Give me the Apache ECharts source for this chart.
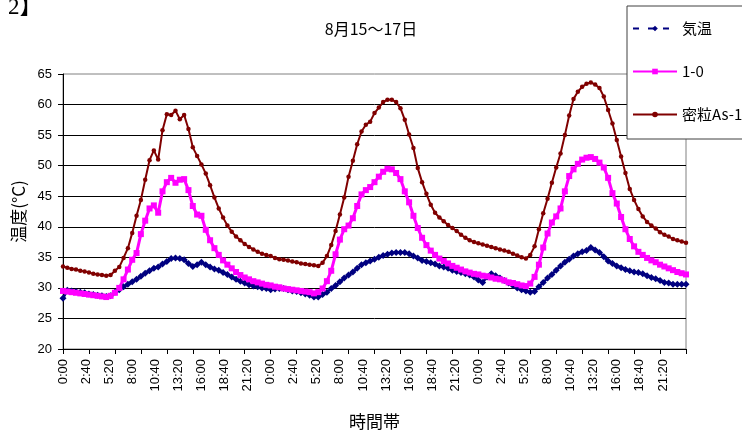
<!DOCTYPE html>
<html>
<head>
<meta charset="utf-8">
<script src="https://cdn.jsdelivr.net/npm/echarts@6/dist/echarts.min.js"></script>
<style>html,body{margin:0;padding:0;background:#fff;}#c{width:742px;height:435px;}</style>
</head>
<body>
<div id="c"></div>
<script>
// x-axis tick labels (repeat every day)
const tickLabels = ['0:00','2:40','5:20','8:00','10:40','13:20','16:00','18:40','21:20'];
const labelStepMin = 160;
const tickStepMin = 180;
const stepMinutes = 30;   // sampling interval of the series below
const totalMinutes = 4320;
const seriesNames = ['気温', '1-0', '密粒As-1'];

// 気温
const airTemp = [
  28.3, 29.6, 29.5, 29.4, 29.3, 29.2, 29.0, 28.9, 28.8, 28.7,
  28.6, 28.7, 29.3, 29.7, 30.2, 30.6, 31.0, 31.4, 31.9, 32.4,
  32.8, 33.2, 33.4, 33.9, 34.3, 34.8, 34.9, 34.8, 34.6, 34.0,
  33.5, 33.8, 34.2, 33.8, 33.4, 33.1, 32.9, 32.5, 32.2, 31.8,
  31.4, 31.1, 30.8, 30.5, 30.3, 30.2, 30.0, 29.9,
  29.7, 29.8, 29.9, 29.9, 29.7, 29.5, 29.4, 29.2, 29.0, 28.8,
  28.5, 28.5, 28.9, 29.3, 29.9, 30.4, 31.0, 31.6, 32.1, 32.6,
  33.2, 33.8, 34.1, 34.4, 34.7, 35.0, 35.3, 35.5, 35.7, 35.8,
  35.8, 35.8, 35.6, 35.2, 34.9, 34.5, 34.3, 34.1, 33.9, 33.6,
  33.4, 33.2, 32.9, 32.7, 32.5, 32.3, 32.1, 31.8,
  31.3, 30.9, 31.8, 32.3, 32.0, 31.6, 31.2, 30.8, 30.4, 30.0,
  29.7, 29.5, 29.3, 29.4, 30.2, 30.9, 31.6, 32.2, 32.9, 33.6,
  34.2, 34.7, 35.2, 35.6, 35.9, 36.1, 36.6, 36.2, 35.8, 35.1,
  34.4, 34.0, 33.6, 33.3, 33.0, 32.8, 32.6, 32.5, 32.3, 32.0,
  31.7, 31.5, 31.2, 30.9, 30.8, 30.6, 30.6, 30.6,
  30.6
];

// 1-0
const surf10 = [
  29.5, 29.4, 29.3, 29.2, 29.1, 29.0, 28.9, 28.8, 28.7, 28.6,
  28.5, 28.7, 29.2, 30.0, 31.4, 33.0, 34.6, 35.7, 38.8, 41.0,
  43.0, 43.5, 42.3, 45.8, 47.3, 48.0, 47.2, 47.7, 47.8, 46.0,
  43.4, 42.0, 41.8, 39.5, 37.8, 36.5, 35.4, 34.5, 33.8, 33.2,
  32.6, 32.1, 31.7, 31.4, 31.1, 30.9, 30.7, 30.5,
  30.4, 30.2, 30.1, 29.9, 29.8, 29.7, 29.6, 29.5, 29.4, 29.3,
  29.1, 29.3, 29.9, 31.1, 32.8, 35.5, 37.9, 39.6, 40.2, 41.4,
  43.4, 45.3, 46.0, 46.5, 47.3, 48.2, 49.0, 49.5, 49.4, 48.8,
  47.8, 45.8, 44.0, 41.8, 39.8, 38.2, 37.0, 36.1, 35.4, 34.8,
  34.4, 34.0, 33.6, 33.3, 33.0, 32.7, 32.5, 32.3,
  32.2, 32.0, 31.9, 31.7, 31.5, 31.4, 31.2, 30.9, 30.8, 30.6,
  30.4, 30.3, 30.7, 31.8, 33.8, 36.6, 38.9, 40.7, 41.7, 43.0,
  45.8, 48.3, 49.4, 50.3, 51.0, 51.3, 51.4, 51.1, 50.5, 49.7,
  48.0, 45.5, 43.8, 41.6, 39.6, 38.0, 36.8, 35.9, 35.4, 34.9,
  34.5, 34.2, 33.8, 33.5, 33.2, 32.9, 32.6, 32.4,
  32.2
];

// 密粒As-1
const denseAs1 = [
  33.5, 33.3, 33.1, 33.0, 32.8, 32.7, 32.5, 32.3, 32.2, 32.1,
  32.0, 32.1, 32.8, 33.4, 34.9, 36.5, 39.0, 41.8, 44.4, 47.7,
  50.9, 52.5, 51.0, 55.8, 58.4, 58.3, 59.0, 57.6, 58.3, 56.0,
  53.0, 51.6, 50.2, 48.7, 46.8, 44.8, 43.0, 41.5, 40.2, 39.2,
  38.4, 37.8, 37.2, 36.7, 36.3, 35.9, 35.6, 35.4,
  35.2, 34.9, 34.7, 34.6, 34.5, 34.3, 34.2, 34.0, 33.9, 33.8,
  33.7, 33.6, 34.1, 35.2, 37.0, 39.3, 42.0, 44.8, 48.2, 50.8,
  53.5, 55.6, 56.7, 57.2, 58.6, 59.5, 60.4, 60.8, 60.8, 60.4,
  59.4, 57.5, 55.1, 52.9, 49.6, 47.3, 45.4, 43.6, 42.3, 41.5,
  40.9, 40.3, 39.8, 39.3, 38.7, 38.2, 37.8, 37.5,
  37.3, 37.1, 36.9, 36.7, 36.5, 36.3, 36.1, 35.9, 35.6, 35.3,
  35.0, 34.8, 35.4, 36.8, 39.6, 42.2, 44.6, 47.2, 49.7, 52.0,
  55.0, 58.2, 60.9, 62.1, 62.9, 63.4, 63.6, 63.3, 62.7, 61.3,
  59.1, 56.9, 54.2, 51.5, 48.8, 46.2, 44.4, 42.9, 41.7, 40.8,
  40.2, 39.7, 39.1, 38.7, 38.4, 38.0, 37.8, 37.6,
  37.4
];

function pairs(arr) { return arr.map((v, i) => [i * stepMinutes, v]); }

const chart = echarts.init(document.getElementById('c'), null, { renderer: 'canvas' });
const axisFont = 'Liberation Sans, Arial, sans-serif';
const jpFont = '"Noto Sans CJK JP", sans-serif';

chart.setOption({
  animation: false,
  backgroundColor: '#fff',
  title: {
    text: '8月15～17日',
    left: 'center',
    top: 16,
    textStyle: { fontFamily: jpFont, fontSize: 16, fontWeight: 'normal', color: '#000' }
  },
  graphic: [{
    type: 'text', left: 8, top: -4,
    style: { text: '2】', font: '23px "Liberation Serif", "Noto Sans CJK JP", serif', fill: '#000' }
  }],
  legend: {
    orient: 'vertical',
    left: 627, top: 6,
    backgroundColor: '#fff',
    borderColor: '#404040', borderWidth: 1,
    padding: [15, 12, 17, 5],
    itemGap: 28,
    itemWidth: 44, itemHeight: 7,
    textStyle: { fontFamily: jpFont, fontSize: 15, lineHeight: 15, color: '#000' },
    data: [
      { name: seriesNames[0], lineStyle: { type: [6, 9], width: 2 } },
      { name: seriesNames[1] },
      { name: seriesNames[2] }
    ]
  },
  grid: {
    left: 63, right: 56, top: 74, bottom: 85,
    show: true, borderColor: '#808080', borderWidth: 1
  },
  xAxis: [{
    type: 'value', min: 0, max: totalMinutes, interval: labelStepMin, position: 'bottom',
    name: '時間帯', nameLocation: 'middle', nameGap: 64,
    nameTextStyle: { fontFamily: jpFont, fontSize: 17, color: '#000' },
    axisLine: { show: true, lineStyle: { color: '#000', width: 1 } },
    axisTick: { show: false },
    splitLine: { show: false },
    axisLabel: {
      rotate: 90, margin: 10, fontSize: 13, color: '#000', fontFamily: axisFont,
      showMaxLabel: false,
      formatter: v => tickLabels[Math.round(v / labelStepMin) % tickLabels.length]
    }
  }, {
    type: 'value', min: 0, max: totalMinutes, interval: tickStepMin, position: 'bottom',
    axisLine: { show: false },
    axisTick: { show: true, length: 5, lineStyle: { color: '#000' } },
    axisLabel: { show: false },
    splitLine: { show: false }
  }],
  yAxis: {
    type: 'value', min: 20, max: 65, interval: 5,
    name: '温度(°C)', nameLocation: 'middle', nameGap: 33, nameRotate: 90,
    nameTextStyle: { fontFamily: jpFont, fontSize: 17, color: '#000' },
    axisLine: { show: true, lineStyle: { color: '#000', width: 1 } },
    axisTick: { show: true, length: 5, lineStyle: { color: '#000' } },
    axisLabel: { margin: 11, fontSize: 13, color: '#000', fontFamily: axisFont },
    splitLine: { show: true, showMaxLine: false, lineStyle: { color: '#000', width: 1 } }
  },
  series: [{
    name: seriesNames[0], type: 'line', xAxisIndex: 0,
    data: pairs(airTemp),
    symbol: 'diamond', symbolSize: 7, showSymbol: true,
    itemStyle: { color: '#000080' },
    lineStyle: { color: '#000080', width: 2.5 }
  }, {
    name: seriesNames[1], type: 'line', xAxisIndex: 0,
    data: pairs(surf10),
    symbol: 'rect', symbolSize: 6, showSymbol: true,
    itemStyle: { color: '#FF00FF' },
    lineStyle: { color: '#FF00FF', width: 3 }
  }, {
    name: seriesNames[2], type: 'line', xAxisIndex: 0,
    data: pairs(denseAs1),
    symbol: 'circle', symbolSize: 4.5, showSymbol: true,
    itemStyle: { color: '#800000' },
    lineStyle: { color: '#800000', width: 2 }
  }]
});
</script>
</body>
</html>
